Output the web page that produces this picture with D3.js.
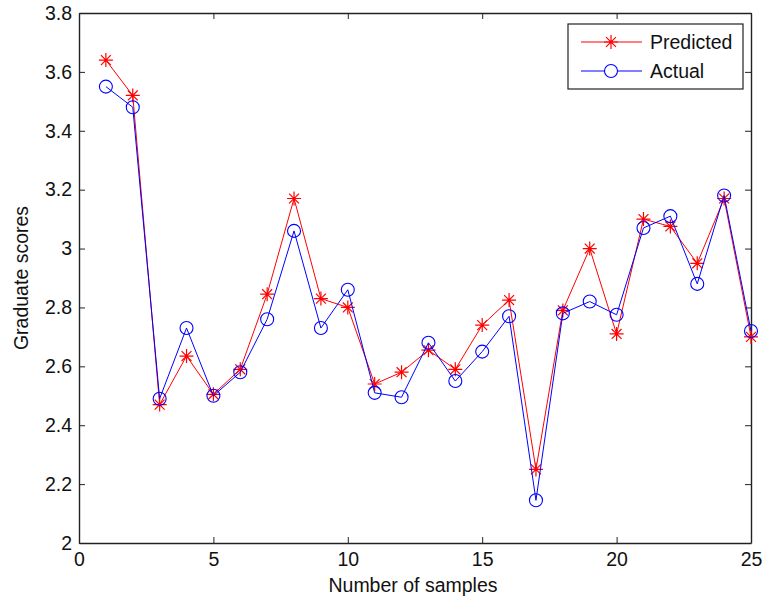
<!DOCTYPE html>
<html lang="en">
<head>
<meta charset="utf-8">
<title>Graduate scores</title>
<script src="https://d3js.org/d3.v7.min.js"></script>
<style type="text/css">
  body { margin: 0; background: #fff; overflow: hidden; }
  svg { display: block; }
  text { font-family: "Liberation Sans", Arial, sans-serif; }
</style>
</head>
<body>
<script>
// data
var samples = d3.range(1, 26);
var predicted = [3.64, 3.52, 2.47, 2.635, 2.505, 2.59, 2.845, 3.17, 2.83, 2.80,
                 2.54, 2.58, 2.655, 2.59, 2.74, 2.825, 2.25, 2.79, 3.00, 2.71,
                 3.10, 3.075, 2.95, 3.17, 2.70];
var actual = [3.55, 3.48, 2.49, 2.73, 2.50, 2.58, 2.76, 3.06, 2.73, 2.86,
              2.51, 2.495, 2.68, 2.55, 2.65, 2.77, 2.145, 2.78, 2.82, 2.775,
              3.07, 3.11, 2.88, 3.18, 2.72];
var xTicks = [0, 5, 10, 15, 20, 25];
var yTicks = [2, 2.2, 2.4, 2.6, 2.8, 3, 3.2, 3.4, 3.6, 3.8];
var seriesNames = ["Predicted", "Actual"];

var width = 765, height = 600;
var margin = { left: 79, top: 13, right: 14, bottom: 57 };
var innerWidth = width - margin.left - margin.right;
var innerHeight = height - margin.top - margin.bottom;

var svg = d3.select("body").append("svg")
    .attr("width", width)
    .attr("height", height);

var g = svg.append("g")
    .attr("transform", "translate(" + margin.left + "," + margin.top + ")");

var x = d3.scaleLinear().domain([0, 25]).range([0, innerWidth]);
var y = d3.scaleLinear().domain([2, 3.8]).range([innerHeight, 0]);

var tickLen = 6;
var fmt = function(d) { return d3.format("")(+d.toFixed(1)); };

// bottom & left axes with labels, ticks pointing inward
var xAxis = g.append("g")
    .attr("transform", "translate(0," + innerHeight + ")")
    .call(d3.axisBottom(x).tickValues(xTicks).tickSizeInner(-tickLen).tickSizeOuter(0).tickPadding(9));
var yAxis = g.append("g")
    .call(d3.axisLeft(y).tickValues(yTicks).tickFormat(fmt).tickSizeInner(-tickLen).tickSizeOuter(0).tickPadding(7));
// top & right axes, ticks only
var xTop = g.append("g")
    .call(d3.axisTop(x).tickValues(xTicks).tickSizeInner(-tickLen).tickSizeOuter(0).tickFormat(""));
var yRight = g.append("g")
    .attr("transform", "translate(" + innerWidth + ",0)")
    .call(d3.axisRight(y).tickValues(yTicks).tickSizeInner(-tickLen).tickSizeOuter(0).tickFormat(""));

[xAxis, yAxis, xTop, yRight].forEach(function(a) {
    a.select(".domain").attr("stroke", "#222").attr("stroke-width", 1.4);
    a.selectAll(".tick line").attr("stroke", "#222");
    a.selectAll(".tick text").attr("fill", "#111").style("font-size", "19.5px");
});

// axis titles
svg.append("text")
    .attr("x", 413)
    .attr("y", 592)
    .attr("text-anchor", "middle")
    .style("font-size", "19.5px")
    .attr("fill", "#111")
    .text("Number of samples");
svg.append("text")
    .attr("transform", "translate(28," + (margin.top + innerHeight / 2) + ") rotate(-90)")
    .attr("text-anchor", "middle")
    .style("font-size", "19.5px")
    .attr("fill", "#111")
    .text("Graduate scores");

var line = d3.line()
    .x(function(d) { return x(d[0]); })
    .y(function(d) { return y(d[1]); });

function pairs(vals) {
    return samples.map(function(s, i) { return [s, vals[i]]; });
}

var starPath = (function(r) {
    var p = "";
    [0, 45, 90, 135].forEach(function(a) {
        var rad = a * Math.PI / 180;
        var dx = r * Math.cos(rad), dy = r * Math.sin(rad);
        p += "M" + (-dx) + "," + (-dy) + "L" + dx + "," + dy;
    });
    return p;
})(7);

// Predicted
var pData = pairs(predicted);
g.append("path").datum(pData)
    .attr("fill", "none").attr("stroke", "#ff0000").attr("stroke-width", 1)
    .attr("d", line);
g.selectAll(".star").data(pData).enter().append("path")
    .attr("class", "star")
    .attr("transform", function(d) { return "translate(" + x(d[0]) + "," + y(d[1]) + ")"; })
    .attr("d", starPath)
    .attr("stroke", "#ff0000").attr("stroke-width", 1.2).attr("fill", "none");

// Actual
var aData = pairs(actual);
g.append("path").datum(aData)
    .attr("fill", "none").attr("stroke", "#0000ff").attr("stroke-width", 1)
    .attr("d", line);
g.selectAll(".circ").data(aData).enter().append("circle")
    .attr("class", "circ")
    .attr("cx", function(d) { return x(d[0]); })
    .attr("cy", function(d) { return y(d[1]); })
    .attr("r", 6.5)
    .attr("stroke", "#0000ff").attr("stroke-width", 1.1).attr("fill", "none");

// legend
var lg = svg.append("g").attr("transform", "translate(568,24)");
lg.append("rect")
    .attr("width", 175).attr("height", 65)
    .attr("fill", "#fff").attr("stroke", "#222").attr("stroke-width", 1.2);
var colors = ["#ff0000", "#0000ff"];
seriesNames.forEach(function(name, i) {
    var yy = 18 + i * 29;
    lg.append("line")
        .attr("x1", 13).attr("x2", 74).attr("y1", yy).attr("y2", yy)
        .attr("stroke", colors[i]).attr("stroke-width", 1);
    if (i === 0) {
        lg.append("path")
            .attr("transform", "translate(43," + yy + ")")
            .attr("d", starPath)
            .attr("stroke", colors[i]).attr("stroke-width", 1.2);
    } else {
        lg.append("circle")
            .attr("cx", 43).attr("cy", yy).attr("r", 6.5)
            .attr("fill", "#fff").attr("stroke", colors[i]).attr("stroke-width", 1.1);
    }
    lg.append("text")
        .attr("x", 82).attr("y", yy + 7)
        .style("font-size", "19.5px")
        .attr("fill", "#111")
        .text(name);
});
</script>
</body>
</html>
